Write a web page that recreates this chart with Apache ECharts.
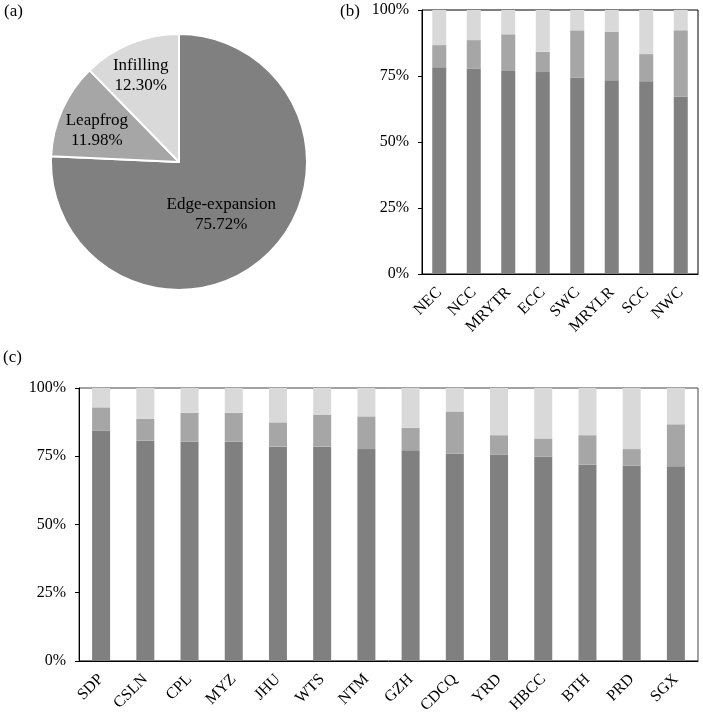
<!DOCTYPE html>
<html>
<head>
<meta charset="utf-8">
<script src="https://cdn.jsdelivr.net/npm/echarts@6/dist/echarts.min.js"></script>
<style>html,body{margin:0;padding:0;background:#fff}#c{width:703px;height:716px}</style>
</head>
<body>
<div id="c"></div>
<script>
// (a) pie
var pieNames = ['Edge-expansion', 'Leapfrog', 'Infilling'];
var pieValues = [75.72, 11.98, 12.30];

// (b) regions
var regionsB = ['NEC', 'NCC', 'MRYTR', 'ECC', 'SWC', 'MRYLR', 'SCC', 'NWC'];
var edgeB = [78.3, 77.8, 76.9, 76.5, 74.4, 73.4, 73.0, 67.2];
var leapB = [8.4, 10.8, 13.9, 7.7, 17.9, 18.4, 10.3, 25.1];
var infillB = [13.3, 11.4, 9.2, 15.8, 7.7, 8.2, 16.7, 7.7];

// (c) urban agglomerations
var regionsC = ['SDP', 'CSLN', 'CPL', 'MYZ', 'JHU', 'WTS', 'NTM', 'GZH', 'CDCQ', 'YRD', 'HBCC', 'BTH', 'PRD', 'SGX'];
var edgeC = [84.4, 80.8, 80.3, 80.3, 78.5, 78.5, 77.6, 77.2, 76.0, 75.5, 74.9, 72.0, 71.6, 71.3];
var leapC = [8.5, 7.9, 10.6, 10.6, 8.9, 11.6, 12.0, 8.2, 15.4, 7.2, 6.6, 10.7, 6.0, 15.4];
var infillC = [7.1, 11.3, 9.1, 9.1, 12.6, 9.9, 10.4, 14.6, 8.6, 17.3, 18.5, 17.3, 22.4, 13.3];

var yTicks = [0, 25, 50, 75, 100];

var FONT = '"Liberation Serif", "DejaVu Serif", serif';
var C_EDGE = '#808080', C_LEAP = '#a6a6a6', C_INF = '#d9d9d9';

function yAxis(gi) {
  return {
    type: 'value', gridIndex: gi, min: yTicks[0], max: yTicks[yTicks.length - 1], interval: 25,
    axisLine: {show: true, lineStyle: {color: '#000', width: 1}},
    axisTick: {show: true, length: 4, lineStyle: {color: '#000'}},
    splitLine: {show: false},
    axisLabel: {formatter: '{value}%', fontFamily: FONT, fontSize: 16, color: '#000', margin: 13}
  };
}
function xAxis(gi, cats) {
  return {
    type: 'category', gridIndex: gi, data: cats,
    axisLine: {show: true, lineStyle: {color: '#000', width: 1}},
    axisTick: {show: false},
    axisLabel: {rotate: 45, interval: 0, fontFamily: FONT, fontSize: 16, color: '#000', margin: 16}
  };
}
function bars(gi, stack, data, color, w) {
  return {
    type: 'bar', xAxisIndex: gi, yAxisIndex: gi, stack: stack, data: data,
    barWidth: w, itemStyle: {color: color}, silent: true, animation: false
  };
}

var chart = echarts.init(document.getElementById('c'), null, {renderer: 'canvas'});
chart.setOption({
  animation: false,
  backgroundColor: '#fff',
  grid: [
    {left: 422, top: 10, right: 5, height: 264, show: true, borderColor: '#000', borderWidth: 1, backgroundColor: 'transparent'},
    {left: 79, top: 388, right: 5, height: 274, show: true, borderColor: '#444', borderWidth: 1, backgroundColor: 'transparent'}
  ],
  xAxis: [xAxis(0, regionsB), xAxis(1, regionsC)],
  yAxis: [yAxis(0), yAxis(1)],
  graphic: [
    {type: 'text', left: 4, top: 3, style: {text: '(a)', font: '17px ' + FONT, fill: '#000'}},
    {type: 'text', left: 340, top: 3, style: {text: '(b)', font: '17px ' + FONT, fill: '#000'}},
    {type: 'text', left: 3, top: 349, style: {text: '(c)', font: '17px ' + FONT, fill: '#000'}}
  ],
  series: [
    {
      type: 'pie', center: [179, 162], radius: 128, startAngle: 90, clockwise: true,
      silent: true, animation: false,
      itemStyle: {borderColor: '#fff', borderWidth: 2},
      label: {show: true, position: 'inside', fontFamily: FONT, fontSize: 17, color: '#000', lineHeight: 20,
        formatter: function (p) { return p.name + '\n' + p.value.toFixed(2) + '%'; }},
      labelLine: {show: false},
      labelLayout: function (p) {
        var d = [[-4, 4], [-21, -4], [-13, -24]][p.dataIndex];
        return {dx: d[0], dy: d[1]};
      },
      data: pieNames.map(function (n, i) {
        return {name: n, value: pieValues[i], itemStyle: {color: [C_EDGE, C_LEAP, C_INF][i]}};
      })
    },
    bars(0, 'b', edgeB, C_EDGE, 14),
    bars(0, 'b', leapB, C_LEAP, 14),
    bars(0, 'b', infillB, C_INF, 14),
    bars(1, 'c', edgeC, C_EDGE, 18),
    bars(1, 'c', leapC, C_LEAP, 18),
    bars(1, 'c', infillC, C_INF, 18)
  ]
});
</script>
</body>
</html>
